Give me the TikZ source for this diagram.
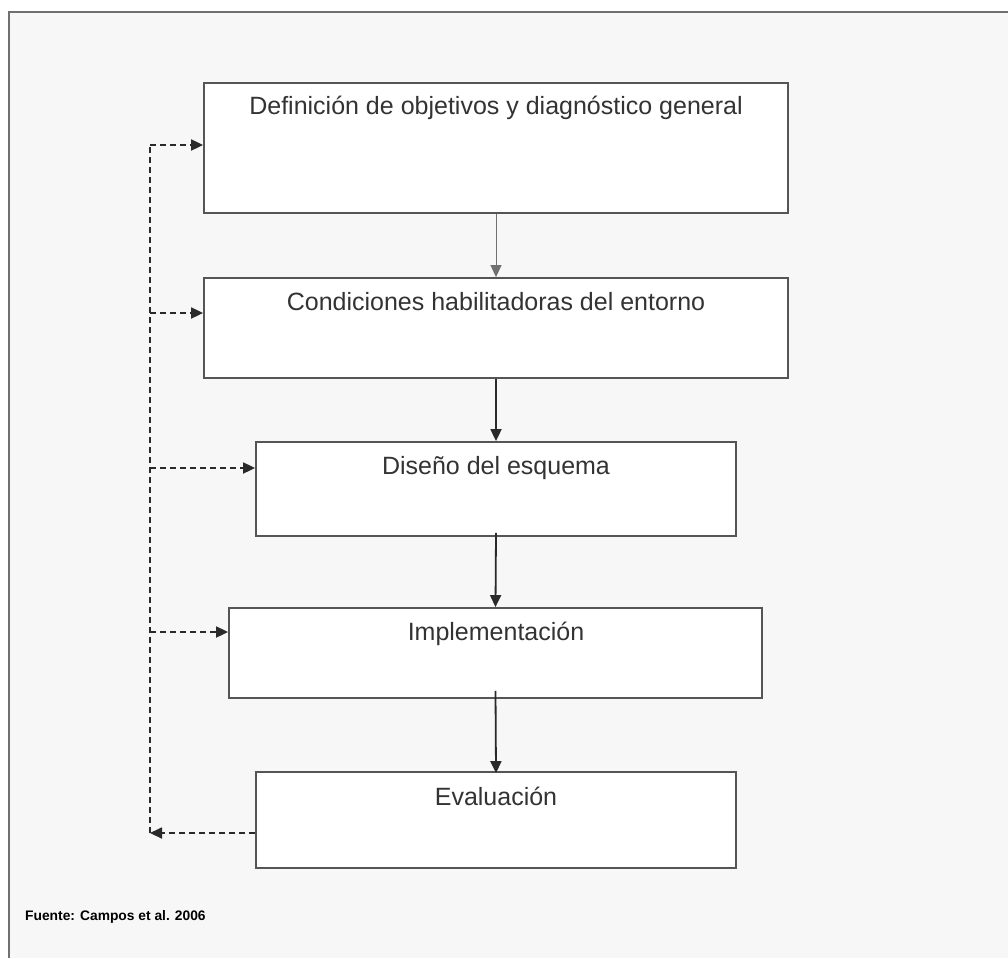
\documentclass[tikz,border=0pt]{standalone}
\usepackage{fontspec}
\setmainfont{Liberation Sans}
\usetikzlibrary{arrows.meta}
\definecolor{bgfill}{HTML}{F7F7F7}
\definecolor{framecol}{HTML}{707070}
\definecolor{boxcol}{HTML}{555555}
\definecolor{txtcol}{HTML}{333333}
\definecolor{arrcol}{HTML}{2A2A2A}
\tikzset{
  stepbox/.style={draw=boxcol, line width=1.8pt, fill=white, inner sep=0pt},
  boxtext/.style={anchor=north, text=txtcol, font=\fontsize{25}{28}\selectfont, inner sep=0pt},
  flow/.style={draw=arrcol, line width=1.8pt, -{Triangle[length=12pt,width=11pt]}},
  fb/.style={draw=arrcol, line width=1.8pt, dash pattern=on 6pt off 4pt},
  fbarrow/.style={fb, -{Triangle[length=12pt,width=11pt]}}
}
\begin{document}
\begin{tikzpicture}[x=1pt,y=-1pt]
\useasboundingbox (0,0) rectangle (1008,958);
\fill[white] (0,0) rectangle (1008,958);
\fill[bgfill] (9,12) rectangle (1008,958);
\draw[framecol, line width=2.5pt] (9,958) -- (9,12) -- (1008,12);

\node[stepbox, minimum width=584pt, minimum height=130pt] (b1) at (496,148) {};
\node[stepbox, minimum width=584pt, minimum height=100pt] (b2) at (496,328) {};
\node[stepbox, minimum width=480pt, minimum height=94pt] (b3) at (496,489) {};
\node[stepbox, minimum width=533pt, minimum height=90pt] (b4) at (495.5,653) {};
\node[stepbox, minimum width=480pt, minimum height=96pt] (b5) at (496,820) {};

\node[boxtext] (t1) at (496,96) {Definición de objetivos y diagnóstico general};
\node[boxtext] (t2) at (496,292) {Condiciones habilitadoras del entorno};
\node[boxtext] (t3) at (496,456) {Diseño del esquema};
\node[boxtext] (t4) at (496,622) {Implementación};
\node[boxtext] (t5) at (496,787) {Evaluación};

\draw[flow, line width=1pt, draw=framecol] (b1.south) -- (b2.north);
\draw[flow] (b2.south) -- (b3.north);
\draw[flow] ([yshift=4pt]b3.south) -- (b4.north);
\draw[flow] ([yshift=8pt]b4.south) -- ([yshift=-2pt]b5.north);

\coordinate (c1) at (150,145);
\coordinate (c2) at (150,313);
\coordinate (c3) at (150,468);
\coordinate (c4) at (150,632);
\coordinate (c5) at (150,833);

\draw[fb] (c5) -- (c1);
\draw[fbarrow] (c1) -- (c1 -| b1.west);
\draw[fbarrow] (c2) -- (c2 -| b2.west);
\draw[fbarrow] (c3) -- (c3 -| b3.west);
\draw[fbarrow] (c4) -- (c4 -| b4.west);
\draw[fbarrow] (c5 -| b5.west) -- (c5);

\node[anchor=west, text=black, font=\bfseries\fontsize{13.8}{16}\selectfont, inner sep=0pt] (src) at (25,917) {Fuente: Campos et al. 2006};
\end{tikzpicture}
\end{document}
